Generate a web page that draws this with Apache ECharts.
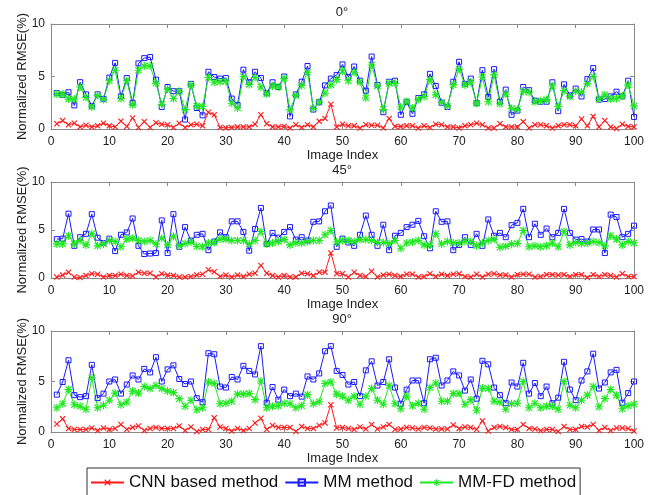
<!DOCTYPE html>
<html>
<meta charset="UTF-8">
<title>rmse-panels</title>
<style type="text/css">
    html,
    body {
        margin: 0px;
        width: 100%;
        height: 100%;
        background: #fff;
    }

    #chart {
        width: 657px;
        height: 495px;
    }
</style>
<script src="https://cdn.jsdelivr.net/npm/echarts@6/dist/echarts.min.js"></script>

<body>
    <div id="chart"></div>
    <script>
        // x positions 1..100 (image index)
        const imageIndex = Array.from({ length: 100 }, (d, i) => i + 1);
        const panelTitles = ['0°', '45°', '90°'];
        const seriesNames = ['CNN based method', 'MM method', 'MM-FD method'];

        // 0 deg
        const cnn0 = [0.5, 0.8, 0.4, 0.55, 0.2, 0.35, 0.2, 0.3, 0.55, 0.3,
            0.2, 0.75, 0.25, 1.05, 0.15, 0.7, 0.15, 0.6, 0.45, 0.4,
            0.15, 0.55, 0.15, 0.4, 0.45, 0.3, 1.6, 1.35, 0.15, 0.1,
            0.15, 0.2, 0.2, 0.2, 0.45, 1.35, 0.5, 0.2, 0.2, 0.25,
            0.1, 0.4, 0.15, 0.4, 0.2, 0.75, 1.0, 2.35, 0.2, 0.45,
            0.3, 0.3, 0.1, 0.4, 0.35, 0.35, 0.1, 1.0, 0.25, 0.25,
            0.3, 0.3, 0.1, 0.3, 0.15, 0.45, 0.4, 0.2, 0.2, 0.1,
            0.3, 0.4, 0.55, 0.4, 0.1, 0.1, 0.5, 0.2, 0.2, 0.2,
            0.7, 0.1, 0.4, 0.4, 0.3, 0.1, 0.3, 0.4, 0.4, 0.3,
            0.95, 0.3, 1.2, 0.2, 0.8, 0.2, 0.05, 0.45, 0.25, 0.2];
        const mm0 = [3.42, 3.26, 3.5, 2.25, 4.46, 3.3, 2.2, 3.3, 2.85, 4.9,
            6.3, 3.1, 4.85, 2.5, 6.25, 6.75, 6.85, 4.7, 2.1, 4.0,
            3.6, 3.6, 0.9, 4.3, 2.0, 1.3, 5.45, 4.95, 4.8, 4.85,
            2.9, 2.3, 5.65, 4.45, 5.45, 4.85, 3.4, 4.45, 4.0, 5.0,
            1.2, 3.3, 4.5, 6.0, 1.85, 2.55, 4.15, 4.8, 5.15, 6.15,
            4.95, 5.95, 4.6, 3.65, 6.9, 4.2, 1.6, 4.5, 4.6, 1.35,
            2.6, 1.45, 2.95, 3.3, 5.25, 4.1, 2.5, 2.1, 4.5, 6.4,
            4.3, 4.8, 2.45, 5.6, 3.05, 5.7, 2.6, 3.75, 1.35, 1.75,
            4.0, 3.7, 2.7, 2.6, 2.6, 4.45, 1.7, 4.25, 3.2, 3.85,
            3.1, 4.75, 5.8, 2.8, 2.85, 3.1, 3.55, 3.1, 4.6, 1.15];
        const mmfd0 = [3.3, 3.3, 2.85, 2.85, 4.0, 3.0, 2.1, 3.2, 2.8, 4.6,
            5.6, 2.9, 4.6, 2.3, 5.6, 6.0, 6.0, 4.35, 2.35, 3.8,
            2.9, 3.6, 1.85, 4.2, 2.2, 2.15, 4.9, 4.45, 4.5, 4.55,
            2.45, 2.0, 5.0, 4.25, 4.9, 4.0, 3.35, 4.1, 4.0, 4.8,
            1.85, 3.2, 4.15, 5.4, 1.95, 2.55, 3.4, 4.2, 4.7, 5.55,
            4.6, 5.4, 4.45, 2.95, 6.1, 4.1, 1.85, 4.35, 4.35, 2.1,
            2.6, 2.0, 2.8, 3.1, 4.7, 3.25, 2.55, 2.2, 4.2, 5.7,
            4.2, 4.45, 2.45, 4.95, 2.6, 5.15, 2.4, 3.35, 1.95, 1.85,
            3.6, 3.5, 2.6, 2.7, 2.8, 4.1, 2.15, 3.65, 3.1, 3.6,
            3.5, 4.3, 5.0, 2.85, 3.25, 2.85, 2.9, 3.15, 4.2, 2.2];

        // 45 deg
        const cnn45 = [0.1, 0.3, 0.6, 0.1, 0.05, 0.25, 0.45, 0.4, 0.1, 0.25,
            0.25, 0.4, 0.25, 0.2, 0.6, 0.5, 0.5, 0.1, 0.45, 0.3,
            0.25, 0.1, 0.1, 0.15, 0.3, 0.4, 0.85, 0.65, 0.15, 0.3,
            0.1, 0.3, 0.15, 0.4, 0.5, 1.3, 0.5, 0.25, 0.1, 0.25,
            0.1, 0.1, 0.5, 0.45, 0.25, 0.6, 0.6, 2.6, 0.45, 0.45,
            0.1, 0.6, 0.25, 0.15, 0.7, 0.1, 0.3, 0.4, 0.25, 0.15,
            0.4, 0.4, 0.1, 0.15, 0.45, 0.15, 0.4, 0.25, 0.4, 0.45,
            0.15, 0.1, 0.4, 0.1, 0.4, 0.45, 0.3, 0.3, 0.1, 0.35,
            0.4, 0.4, 0.1, 0.15, 0.35, 0.35, 0.3, 0.35, 0.15, 0.35,
            0.35, 0.05, 0.35, 0.15, 0.35, 0.25, 0.1, 0.45, 0.15, 0.15];
        const mm45 = [4.05, 4.1, 6.7, 3.35, 4.25, 4.6, 6.65, 4.2, 3.65, 4.1,
            2.8, 4.5, 4.75, 6.2, 3.35, 2.5, 2.55, 2.6, 6.0, 2.6,
            6.65, 3.25, 5.3, 3.9, 4.5, 4.6, 2.9, 3.8, 4.75, 4.25,
            5.9, 5.9, 4.8, 2.85, 5.1, 7.3, 3.55, 4.7, 4.2, 4.8,
            5.3, 4.0, 4.25, 3.9, 5.85, 5.9, 6.95, 7.55, 3.25, 4.1,
            3.7, 3.35, 4.5, 6.5, 4.5, 3.35, 5.55, 2.9, 4.4, 4.7,
            5.3, 5.55, 5.95, 4.35, 3.1, 6.95, 5.85, 5.9, 2.9, 3.45,
            4.25, 3.45, 4.6, 3.35, 6.1, 4.4, 4.7, 4.25, 5.5, 5.75,
            7.2, 4.25, 5.65, 4.5, 5.15, 4.25, 4.7, 7.2, 4.7, 4.0,
            4.05, 3.8, 5.05, 5.05, 2.6, 6.6, 6.35, 4.25, 4.6, 5.45];
        const mmfd45 = [3.55, 3.55, 4.4, 3.55, 3.9, 3.45, 4.6, 3.35, 3.55, 3.9,
            3.8, 3.25, 4.05, 4.15, 3.9, 3.8, 3.9, 3.55, 4.15, 3.45,
            4.35, 3.35, 3.6, 3.75, 3.3, 3.25, 3.65, 3.7, 4.05, 4.05,
            3.9, 3.9, 3.9, 3.55, 3.9, 4.85, 3.55, 3.65, 3.8, 4.0,
            3.45, 3.65, 3.65, 3.8, 3.9, 3.9, 4.5, 4.95, 3.75, 3.9,
            3.9, 3.8, 4.0, 4.0, 3.9, 3.7, 3.7, 3.6, 3.9, 3.1,
            3.65, 3.75, 3.9, 3.45, 3.4, 4.6, 3.55, 3.8, 3.65, 3.65,
            3.8, 3.8, 3.35, 3.65, 3.9, 4.0, 3.2, 3.3, 3.55, 3.6,
            4.95, 3.25, 3.35, 3.25, 3.35, 3.65, 3.25, 4.85, 3.45, 3.7,
            3.6, 3.65, 3.8, 3.7, 3.35, 4.4, 4.05, 3.45, 3.8, 3.65];

        // 90 deg
        const cnn90 = [0.8, 1.3, 0.35, 0.25, 0.25, 0.25, 0.4, 0.15, 0.4, 0.25,
            0.35, 0.75, 0.25, 0.45, 0.6, 0.15, 0.35, 0.45, 0.35, 0.35,
            0.35, 0.6, 0.15, 0.5, 0.05, 0.25, 0.25, 1.4, 0.5, 0.35,
            0.1, 0.35, 0.15, 0.35, 0.9, 1.35, 0.25, 0.65, 0.45, 0.45,
            0.45, 0.05, 0.55, 0.35, 0.35, 0.65, 0.9, 2.7, 0.4, 0.45,
            0.35, 0.25, 0.5, 0.3, 0.75, 0.3, 0.5, 0.75, 0.25, 0.3,
            0.45, 0.4, 0.3, 0.45, 0.4, 0.3, 0.3, 0.3, 0.7, 0.35,
            0.5, 0.45, 0.25, 1.1, 0.1, 0.45, 0.55, 0.45, 0.25, 0.25,
            0.75, 0.35, 0.3, 0.15, 0.25, 0.25, 0.05, 0.55, 0.25, 0.25,
            0.55, 0.5, 0.75, 0.15, 0.45, 0.15, 0.4, 0.4, 0.35, 0.1];
        const mm90 = [3.7, 4.95, 7.1, 3.65, 3.45, 3.55, 6.65, 3.35, 3.8, 5.0,
            5.2, 3.8, 4.7, 5.6, 5.2, 6.25, 5.9, 7.4, 5.0, 6.2,
            6.6, 5.25, 4.75, 5.0, 3.35, 2.95, 7.8, 7.7, 4.5, 4.4,
            5.45, 5.2, 6.55, 6.05, 5.7, 8.5, 2.9, 4.45, 3.2, 4.2,
            3.55, 3.8, 3.5, 5.5, 5.2, 5.8, 8.0, 8.5, 6.05, 5.65,
            4.7, 4.95, 3.55, 6.1, 7.0, 4.6, 4.95, 7.2, 4.4, 2.8,
            4.2, 5.1, 5.1, 2.85, 7.2, 7.35, 4.6, 5.1, 6.0, 5.6,
            4.1, 5.2, 3.3, 7.05, 6.7, 4.4, 3.65, 2.85, 4.9, 4.5,
            6.85, 3.8, 4.85, 3.55, 4.5, 2.85, 3.4, 6.95, 4.2, 3.15,
            5.1, 6.0, 7.75, 4.3, 4.9, 5.9, 6.15, 2.9, 3.85, 5.0];
        const mmfd90 = [2.4, 2.8, 4.2, 2.7, 2.55, 2.25, 5.35, 2.4, 2.65, 3.15,
            3.85, 2.7, 2.95, 4.05, 3.85, 4.5, 4.3, 4.6, 4.3, 4.05,
            3.9, 3.3, 2.55, 3.15, 2.2, 2.4, 4.95, 4.8, 2.8, 2.85,
            3.05, 3.75, 3.75, 3.8, 3.2, 5.05, 2.4, 2.55, 2.6, 2.85,
            2.8, 2.4, 2.6, 3.7, 2.8, 3.0, 4.8, 4.95, 3.75, 3.55,
            3.15, 3.55, 2.75, 3.55, 4.3, 3.15, 2.75, 4.6, 2.8, 2.3,
            3.55, 2.6, 2.85, 2.25, 4.4, 4.85, 3.05, 3.05, 3.8, 3.8,
            2.75, 3.2, 2.15, 4.35, 4.3, 3.05, 2.95, 2.25, 2.8, 2.85,
            5.0, 2.4, 2.85, 2.4, 2.55, 2.55, 2.25, 5.0, 2.65, 2.4,
            3.15, 3.65, 4.5, 2.5, 3.3, 4.2, 3.65, 2.3, 2.6, 2.75];

        const panels = [
            [cnn0, mm0, mmfd0],
            [cnn45, mm45, mmfd45],
            [cnn90, mm90, mmfd90]
        ];

        // layout of the three subplots (px)
        const gridBoxes = [
            { top: 24, height: 105 },
            { top: 182, height: 96 },
            { top: 331, height: 101 }
        ];

        const xMark = 'path://M0,1.3L1.3,0L5,3.7L8.7,0L10,1.3L6.3,5L10,8.7L8.7,10L5,6.3L1.3,10L0,8.7L3.7,5Z';
        const starMark = 'path://M4.3,0h1.4v10h-1.4zM0,4.3h10v1.4h-10zM1.6,0.6L9.4,8.4L8.4,9.4L0.6,1.6zM8.4,0.6L9.4,1.6L1.6,9.4L0.6,8.4z';
        const colors = ['#ff1a1a', '#1a1aff', '#1ee81e'];
        const symbols = [xMark, 'rect', starMark];
        const symbolSizes = [6, 5, 8];

        const font = 'Liberation Sans';
        const textColor = '#222';
        const boxColor = '#8a8a8a';

        const grid = [], xAxis = [], yAxis = [], series = [], title = [];

        gridBoxes.forEach((g, p) => {
            grid.push({ left: 51, right: 23, top: g.top, height: g.height });
            title.push({
                text: panelTitles[p],
                left: 342,
                top: g.top - 18,
                textAlign: 'center',
                padding: 0,
                textStyle: { fontFamily: font, fontSize: 13, fontWeight: 'normal', color: textColor }
            });
            const tickStyle = { show: true, inside: true, length: 4, lineStyle: { color: boxColor } };
            xAxis.push({
                type: 'value', gridIndex: p, min: 0, max: 100, interval: 10,
                axisLine: { onZero: false, lineStyle: { color: boxColor } },
                axisTick: tickStyle,
                axisLabel: { margin: 7, fontFamily: font, fontSize: 12, color: textColor },
                splitLine: { show: false },
                name: 'Image Index', nameLocation: 'middle', nameGap: 17,
                nameTextStyle: { fontFamily: font, fontSize: 13, color: textColor }
            });
            xAxis.push({
                type: 'value', gridIndex: p, position: 'top', min: 0, max: 100, interval: 10,
                axisLine: { onZero: false, lineStyle: { color: boxColor } },
                axisTick: tickStyle,
                axisLabel: { show: false },
                splitLine: { show: false }
            });
            yAxis.push({
                type: 'value', gridIndex: p, min: 0, max: 10, interval: 5,
                axisLine: { show: true, onZero: false, lineStyle: { color: boxColor } },
                axisTick: tickStyle,
                axisLabel: { margin: 6, fontFamily: font, fontSize: 12, color: textColor },
                splitLine: { show: false },
                name: 'Normalized RMSE(%)', nameLocation: 'middle', nameGap: 22,
                nameMoveOverlap: false,
                nameTextStyle: { fontFamily: font, fontSize: 13, color: textColor }
            });
            yAxis.push({
                type: 'value', gridIndex: p, position: 'right', min: 0, max: 10, interval: 5,
                axisLine: { show: true, onZero: false, lineStyle: { color: boxColor } },
                axisTick: tickStyle,
                axisLabel: { show: false },
                splitLine: { show: false }
            });

            // draw MM first, then MM-FD, then CNN on top
            [1, 2, 0].forEach(k => {
                series.push({
                    name: seriesNames[k],
                    type: 'line',
                    xAxisIndex: 2 * p,
                    yAxisIndex: 2 * p,
                    data: panels[p][k].map((v, i) => [imageIndex[i], v]),
                    symbol: symbols[k],
                    symbolSize: symbolSizes[k],
                    showAllSymbol: true,
                    lineStyle: { color: colors[k], width: 1 },
                    itemStyle: k === 1
                        ? { color: 'rgba(255,255,255,0)', borderColor: colors[k], borderWidth: 1 }
                        : { color: colors[k], borderWidth: 0 },
                    emphasis: { disabled: true }
                });
            });
        });

        const chart = echarts.init(document.getElementById('chart'));
        chart.setOption({
            animation: false,
            backgroundColor: '#fff',
            title: title,
            grid: grid,
            xAxis: xAxis,
            yAxis: yAxis,
            legend: {
                data: seriesNames,
                left: 87,
                top: 468,
                padding: [6, 4, 12, 3],
                itemGap: 6,
                itemWidth: 33,
                itemHeight: 8,
                borderColor: '#333',
                borderWidth: 1,
                textStyle: { fontFamily: font, fontSize: 17, color: '#111' }
            },
            series: series
        });
    </script>
</body>

</html>
